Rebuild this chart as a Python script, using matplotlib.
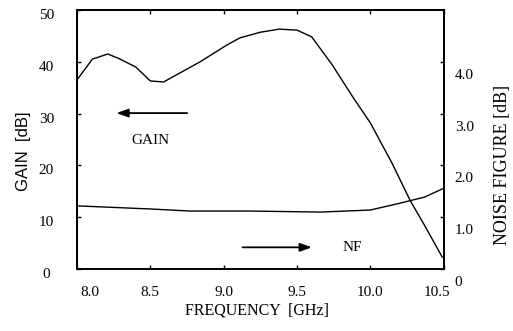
import matplotlib
matplotlib.use('Agg')
from matplotlib import pyplot as plt
from matplotlib.transforms import ScaledTranslation

# gain curve [dB] vs frequency [GHz]
gain_freq = [8.0, 8.105, 8.21, 8.28, 8.4, 8.5, 8.59, 8.68, 8.84, 9.02, 9.11, 9.25,
             9.38, 9.5, 9.6, 9.74, 9.88, 10.0, 10.15, 10.27, 10.38, 10.49]
gain_db = [36.5, 40.5, 41.5, 40.7, 39.0, 36.3, 36.1, 37.5, 40.0, 43.2, 44.6, 45.7,
           46.3, 46.1, 44.8, 39.4, 33.2, 28.2, 20.3, 13.3, 7.9, 2.3]
# noise figure [dB]
nf_freq = [8.0, 8.5, 8.77, 9.18, 9.66, 10.0, 10.2, 10.37, 10.5]
nf_db = [1.22, 1.16, 1.12, 1.12, 1.10, 1.14, 1.27, 1.39, 1.56]

x_ticks = [8.0, 8.5, 9.0, 9.5, 10.0, 10.5]
gain_ticks = [0, 10, 20, 30, 40, 50]
nf_ticks = [0, 1.0, 2.0, 3.0, 4.0]
nf_labels = ['0', '1.0', '2.0', '3.0', '4.0']

serif = ['Liberation Serif', 'DejaVu Serif']
plt.rcParams['font.family'] = serif

fig = plt.figure(figsize=(5.13, 3.31), dpi=100)
ax = fig.add_axes([0.150, 0.187, 0.715, 0.783])
ax2 = ax.twinx()

ax.plot(gain_freq, gain_db, color='k', lw=1.0)
ax2.plot(nf_freq, nf_db, color='k', lw=1.0)

ax.set_xlim(8.0, 10.5)
ax.set_ylim(0, 50)
ax2.set_ylim(0, 5)

ax.set_xticks(x_ticks)
ax.set_xticklabels(['%.1f' % v for v in x_ticks])
ax.set_yticks(gain_ticks)
ax2.set_yticks(nf_ticks)
ax2.set_yticklabels(nf_labels)

ax.tick_params(axis='x', direction='in', length=3, width=1, top=True, pad=12, labelsize=11)
ax.tick_params(axis='y', direction='in', length=3, width=1, right=False, pad=22, labelsize=11)
ax2.tick_params(axis='y', direction='in', length=3, width=1, pad=8, labelsize=11)
for a in (ax, ax2):
    for s in a.spines.values():
        s.set_linewidth(1.3)

# shift tick labels a bit like the scanned original
for lbl in ax.get_yticklabels():
    lbl.set_horizontalalignment('center')
    lbl.set_transform(lbl.get_transform() + ScaledTranslation(0, -0.04, fig.dpi_scale_trans))
for lbl in ax2.get_yticklabels():
    lbl.set_transform(lbl.get_transform() + ScaledTranslation(0, -0.12, fig.dpi_scale_trans))
xl = ax.get_xticklabels()
xl[0].set_transform(xl[0].get_transform() + ScaledTranslation(0.13, 0, fig.dpi_scale_trans))
xl[-1].set_transform(xl[-1].get_transform() + ScaledTranslation(-0.07, 0, fig.dpi_scale_trans))

ax.set_ylabel('GAIN  [dB]', family=['Liberation Sans', 'DejaVu Sans'], fontsize=12, va='center')
ax.yaxis.set_label_coords(-0.145, 0.456)
ax2.set_ylabel('NOISE FIGURE [dB]', fontsize=13, rotation=90, va='center')
ax2.yaxis.set_label_coords(1.161, 0.40)
ax.set_xlabel('FREQUENCY  [GHz]', fontsize=11.5, va='center')
ax.xaxis.set_label_coords(0.492, -0.158)

ax.annotate('', xy=(8.25, 30.1), xytext=(8.77, 30.1),
            arrowprops=dict(arrowstyle='-|>,head_length=0.7,head_width=0.25', color='k', lw=1.3))
ax.text(8.5, 24.9, 'GAIN', ha='center', va='center', fontsize=11)
ax2.annotate('', xy=(9.62, 0.42), xytext=(9.11, 0.42),
             arrowprops=dict(arrowstyle='-|>,head_length=0.7,head_width=0.25', color='k', lw=1.3))
ax2.text(9.88, 0.41, 'NF', ha='center', va='center', fontsize=11)

fig.savefig('out.png', dpi=100)
